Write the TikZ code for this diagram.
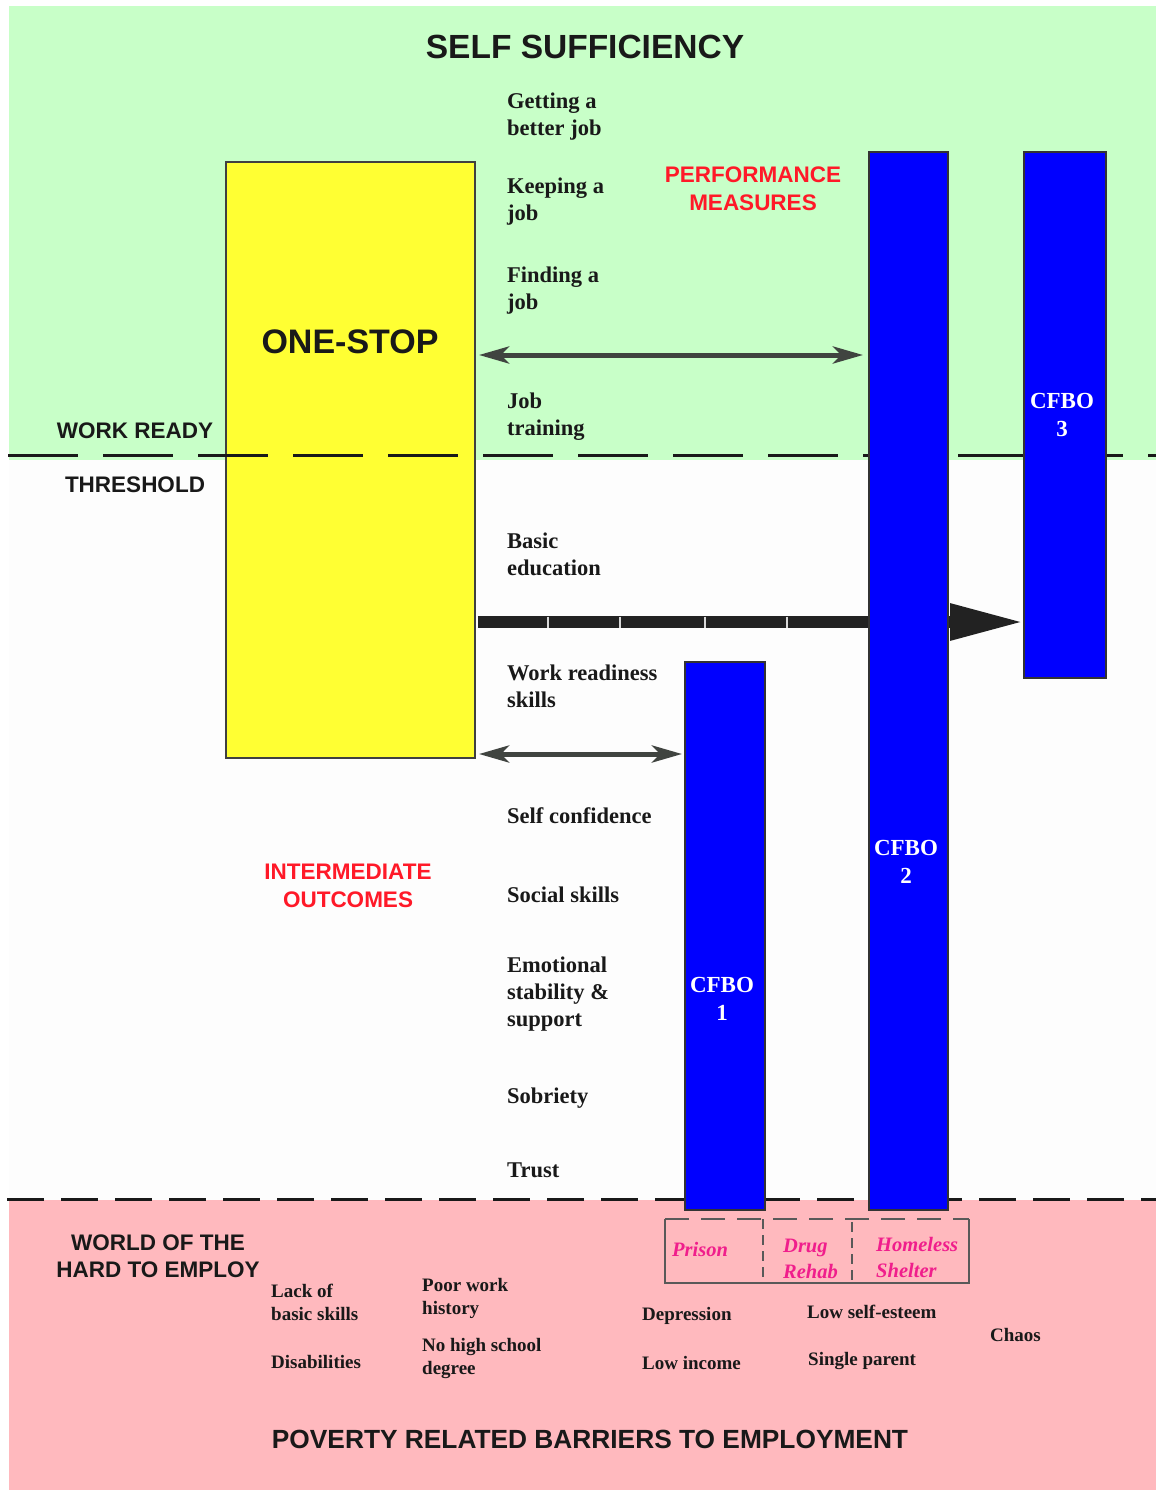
\documentclass[tikz,border=0pt]{standalone}
\usepackage{fontspec}
\setmainfont{Liberation Serif}
\setsansfont{Liberation Sans}
\usetikzlibrary{arrows.meta}
\definecolor{bggreen}{RGB}{200,255,200}
\definecolor{bgwhite}{RGB}{253,253,253}
\definecolor{bgpink}{RGB}{255,185,190}
\definecolor{boxyellow}{RGB}{255,255,51}
\definecolor{boxblue}{RGB}{0,0,255}
\definecolor{redtext}{RGB}{255,25,40}
\definecolor{pinktext}{RGB}{240,30,140}
\definecolor{arrowgray}{RGB}{64,68,64}
\definecolor{arrowdark}{RGB}{34,34,34}
\definecolor{txt}{RGB}{25,25,25}
\begin{document}
\begin{tikzpicture}[x=1pt,y=-1pt,
  panel/.style={anchor=north west, inner sep=0pt, outer sep=0pt, line width=1.5pt},
  yellowbox/.style={panel, fill=boxyellow, draw=black!75},
  bluebox/.style={panel, fill=boxblue, draw=black!80},
  heading/.style={font=\sffamily\bfseries\fontsize{22.5}{27}\selectfont, text=txt, inner sep=0pt, align=center},
  redhead/.style={font=\sffamily\bfseries\fontsize{22.5}{28}\selectfont, text=redtext, inner sep=0pt, align=center},
  outcome/.style={font=\bfseries\fontsize{22.5}{27}\selectfont, text=txt, inner sep=0pt, align=left, anchor=west},
  barrier/.style={font=\bfseries\fontsize{19}{23}\selectfont, text=txt, inner sep=0pt, align=left, anchor=west},
  place/.style={font=\bfseries\itshape\fontsize{20.5}{26}\selectfont, text=pinktext, inner sep=0pt, align=left, anchor=west},
  cfbolabel/.style={font=\bfseries\fontsize{23}{28}\selectfont, text=white, inner sep=0pt, align=center},
  topdash/.style={line width=3pt, draw=black!90, dash pattern=on 70pt off 25pt},
  botdash/.style={line width=3pt, draw=black!90, dash pattern=on 37pt off 17pt},
  dblarrow/.style={line width=5pt, draw=arrowgray,
     {Stealth[length=30pt,width=17pt,inset=8pt]}-{Stealth[length=30pt,width=17pt,inset=8pt]}},
  bigarrow/.style={line width=12pt, draw=arrowdark, -{Triangle[length=74pt,width=34pt]}},
  placeline/.style={line width=1.5pt, draw=black!65},
  placedash/.style={line width=1.5pt, draw=black!65, dash pattern=on 10pt off 6pt}
]
\useasboundingbox (0,0) rectangle (1156,1490);
\fill[white] (0,0) rectangle (1156,1490);
% background bands
\fill[bggreen] (9,6) rectangle (1156,460);
\fill[bgwhite] (9,460) rectangle (1156,1200);
\fill[bgpink] (9,1200) rectangle (1156,1490);

% one-stop box
\node[yellowbox, minimum width=249pt, minimum height=596pt] (onestop) at (226,162) {};

% threshold lines
\draw[topdash] (8,455) -- (1156,455);
\draw[botdash] (7,1199) -- (1156,1199);

% arrow levels
\coordinate (lvlA) at (0,355);
\coordinate (lvlB) at (0,622);
\coordinate (lvlC) at (0,754);

% CFBO boxes (big arrow drawn under CFBO 2)
\node[bluebox, minimum width=82pt, minimum height=526pt] (cfbo3) at (1024,152) {};
\draw[bigarrow, shorten <=3pt] (onestop.east |- lvlB) -- (cfbo3.west |- lvlB);
\foreach \sx in {548,620,705,787} \draw[line width=1.2pt, white!70!gray] (\sx,616.5) -- (\sx,627.5);
\node[bluebox, minimum width=79pt, minimum height=1058pt] (cfbo2) at (869,152) {};
\node[bluebox, minimum width=80pt, minimum height=548pt] (cfbo1) at (685,662) {};

\draw[dblarrow, shorten <=4pt, shorten >=6pt] (onestop.east |- lvlA) -- (cfbo2.west |- lvlA);
\draw[dblarrow, shorten <=4pt, shorten >=3pt] (onestop.east |- lvlC) -- (cfbo1.west |- lvlC);

% CFBO labels
\node[cfbolabel] (l3) at (1062,415) {CFBO\\3};
\node[cfbolabel] (l2) at (906,862) {CFBO\\2};
\node[cfbolabel] (l1) at (722,999) {CFBO\\1};

% headings
\node[font=\sffamily\bfseries\fontsize{33.5}{38}\selectfont, text=txt, inner sep=0pt] (title) at (585,47) {SELF SUFFICIENCY};
\node[font=\sffamily\bfseries\fontsize{34}{38}\selectfont, text=txt, inner sep=0pt] (onestoplbl) at (350,342) {ONE-STOP};
\node[redhead] (perf) at (753,189) {PERFORMANCE\\MEASURES};
\node[redhead] (inter) at (348,885.5) {INTERMEDIATE\\OUTCOMES};
\node[heading] (workready) at (135,431) {WORK READY};
\node[heading] (threshold) at (135,485) {THRESHOLD};
\node[heading] (world) at (158,1256.5) {WORLD OF THE\\HARD TO EMPLOY};
\node[font=\sffamily\bfseries\fontsize{26.3}{30}\selectfont, text=txt, inner sep=0pt] (poverty) at (590,1439) {POVERTY RELATED BARRIERS TO EMPLOYMENT};

% outcomes
\node[outcome] (o1) at (507,117) {Getting a\\better job};
\node[outcome] (o2) at (507,201.5) {Keeping a\\job};
\node[outcome] (o3) at (507,291) {Finding a\\job};
\node[outcome] (o4) at (507,417) {Job\\training};
\node[outcome] (o5) at (507,554.5) {Basic\\education};
\node[outcome] (o6) at (507,686.5) {Work readiness\\skills};
\node[outcome] (o7) at (507,816) {Self confidence};
\node[outcome] (o8) at (507,895) {Social skills};
\node[outcome] (o9) at (507,994) {Emotional\\stability \&\\support};
\node[outcome] (o10) at (507,1098) {Sobriety};
\node[outcome] (o11) at (507,1170) {Trust};

% barriers
\node[barrier] (b1) at (271,1302) {Lack of\\basic skills};
\node[barrier] (b2) at (271,1362) {Disabilities};
\node[barrier] (b3) at (422,1298.5) {Poor work\\history};
\node[barrier] (b4) at (422,1358.5) {No high school\\degree};
\node[barrier] (b5) at (642,1316) {Depression};
\node[barrier] (b6) at (642,1363) {Low income};
\node[barrier] (b7) at (807,1312) {Low self-esteem};
\node[barrier] (b8) at (808,1361) {Single parent};
\node[barrier] (b9) at (990,1335) {Chaos};

% places box
\draw[placeline] (665,1219) -- (665,1283) -- (969,1283) -- (969,1219);
\draw[placedash, dash pattern=on 24pt off 12pt] (665,1219) -- (969,1219);
\draw[placedash] (763,1219) -- (763,1283);
\draw[placedash] (852,1222) -- (852,1283);
\node[place] (prison) at (672,1249) {Prison};
\node[place] (rehab) at (783,1259) {Drug\\Rehab};
\node[place] (shelter) at (876,1257) {Homeless\\Shelter};
\end{tikzpicture}
\end{document}
